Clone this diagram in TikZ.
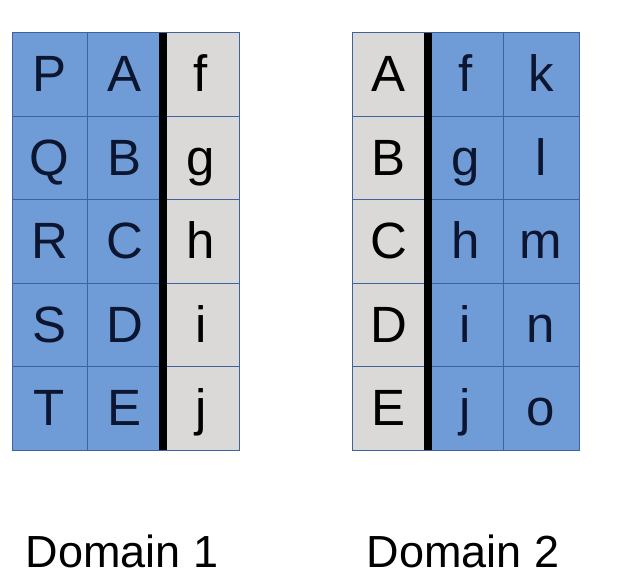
\documentclass[tikz,border=0pt]{standalone}
\usepackage{fontspec}
\setmainfont{Liberation Sans}
\definecolor{cellblue}{RGB}{111,155,214}
\definecolor{cellgray}{RGB}{218,217,215}
\definecolor{gridline}{RGB}{62,98,158}
\definecolor{inkblue}{RGB}{12,22,48}
\begin{document}
\begin{tikzpicture}[x=1pt,y=-1pt,
  bluecell/.style={fill=cellblue,draw=gridline,line width=1pt},
  graycell/.style={fill=cellgray,draw=gridline,line width=1pt},
  letter/.style={anchor=base,inner sep=0pt,font=\fontsize{51}{51}\selectfont,text=inkblue},
  sep/.style={line width=8pt,black},
  caption/.style={anchor=base,inner sep=0pt,font=\fontsize{45}{45}\selectfont,text=black}]
\useasboundingbox[fill=white] (0,0) rectangle (638,583);
% row boundaries
\def\rowH{83.4}
% ---- Domain 1 ----
\foreach \r [count=\i from 0] in {P,Q,R,S,T}{
  \pgfmathsetmacro{\yt}{33+\i*\rowH}
  \pgfmathsetmacro{\yb}{33+(\i+1)*\rowH}
  \draw[bluecell] (12,\yt) rectangle (87,\yb);
  \draw[bluecell] (87,\yt) rectangle (163,\yb);
  \draw[graycell] (163,\yt) rectangle (239,\yb);
}
\foreach \a/\b/\c [count=\i from 0] in {P/A/f,Q/B/g,R/C/h,S/D/i,T/E/j}{
  \pgfmathsetmacro{\yl}{33+\i*\rowH+59}
  \node[letter] (l\a) at (49.5,\yl) {\a};
  \node[letter] (lm\b) at (125,\yl) {\b};
  \node[letter,text=black] (lr\c) at (201,\yl) {\c};
}
\coordinate (s1t) at (163,33);
\coordinate (s1b) at (163,450);
\draw[sep] (s1t) -- (s1b);
% ---- Domain 2 ----
\foreach \r [count=\i from 0] in {A,B,C,D,E}{
  \pgfmathsetmacro{\yt}{33+\i*\rowH}
  \pgfmathsetmacro{\yb}{33+(\i+1)*\rowH}
  \draw[graycell] (352,\yt) rectangle (428,\yb);
  \draw[bluecell] (428,\yt) rectangle (503,\yb);
  \draw[bluecell] (503,\yt) rectangle (579,\yb);
}
\foreach \a/\b/\c [count=\i from 0] in {A/f/k,B/g/l,C/h/m,D/i/n,E/j/o}{
  \pgfmathsetmacro{\yl}{33+\i*\rowH+59}
  \node[letter,text=black] (rl\a) at (389,\yl) {\a};
  \node[letter] (rm\b) at (465.5,\yl) {\b};
  \node[letter] (rr\c) at (541,\yl) {\c};
}
\coordinate (s2t) at (428,33);
\coordinate (s2b) at (428,450);
\draw[sep] (s2t) -- (s2b);
% captions
\node[caption] (cap1) at (122,567) {Domain 1};
\node[caption] (cap2) at (463,567) {Domain 2};
\end{tikzpicture}
\end{document}
